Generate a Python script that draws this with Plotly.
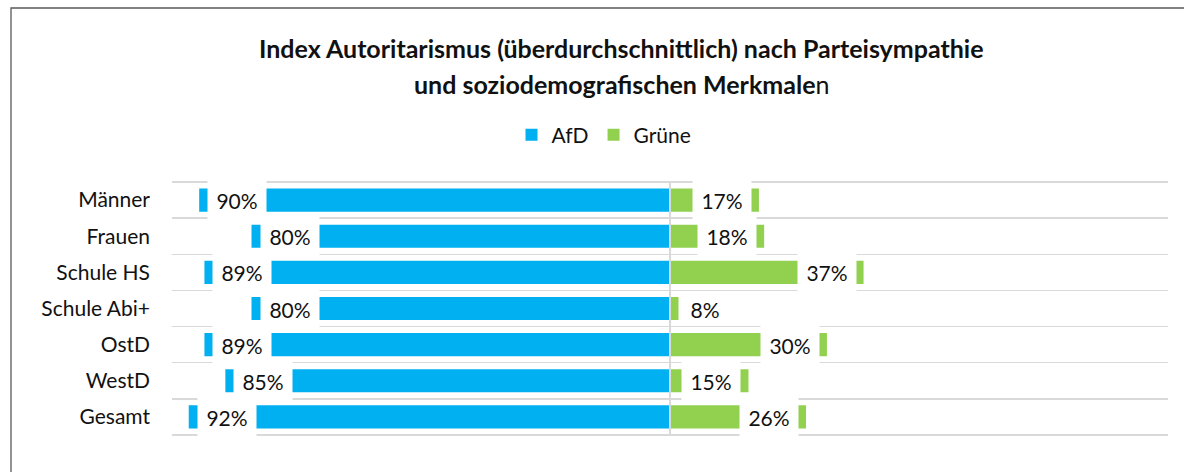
import plotly.graph_objects as go

categories = ["Männer", "Frauen", "Schule HS", "Schule Abi+", "OstD", "WestD", "Gesamt"]
afd = [90, 80, 89, 80, 89, 85, 92]
gruene = [17, 18, 37, 8, 30, 15, 26]
series_names = ["AfD", "Grüne"]
colors = ["#00B0F0", "#92D050"]
title_line1 = "Index Autoritarismus (überdurchschnittlich) nach Parteisympathie"
title_line2 = "<b>und soziodemografischen Merkmale</b>n"

FONT = "Lato"
W, H = 1184, 472
EDGE = 3  # extra px above/below outer gridlines so they are not clipped
ML, MR, MT, MB = 172, 16, 182 - EDGE, 37 - EDGE
XMAX = 95.2
n = len(categories)
ypos = [n - 1 - i for i in range(n)]
grid_pos = [i - 0.5 for i in range(n + 1)]
plot_w = W - ML - MR
plot_h = H - MT - MB
px_per_unit = plot_w / (2 * XMAX)
row_px = (plot_h - 2 * EDGE) / n
YPAD = EDGE / row_px
yrange = [-0.5 - YPAD, n - 0.5 + YPAD]

BOX_W = 58
GAP = 7

fig = go.Figure()
fig.add_trace(go.Bar(
    y=ypos, x=[-v for v in afd], orientation="h", name=series_names[0],
    marker=dict(color=colors[0], line=dict(width=0)), width=0.64,
    hoverinfo="skip",
))
fig.add_trace(go.Bar(
    y=ypos, x=gruene, orientation="h", name=series_names[1],
    marker=dict(color=colors[1], line=dict(width=0)), width=0.64,
    hoverinfo="skip",
))

annotations = []
label_font = dict(family=FONT, size=21, color="#111111")
for yv, v in zip(ypos, afd):
    annotations.append(dict(
        x=-v, y=yv, xref="x", yref="y", text=f"{v}%", showarrow=False,
        xanchor="left", yanchor="middle", xshift=GAP + 1, bgcolor="white",
        width=BOX_W, height=38, borderpad=0, font=label_font,
    ))
for yv, v in zip(ypos, gruene):
    fits = v * px_per_unit - GAP - BOX_W > GAP
    if fits:
        annotations.append(dict(
            x=v, y=yv, xref="x", yref="y", text=f"{v}%", showarrow=False,
            xanchor="right", yanchor="middle", xshift=-GAP, bgcolor="white",
            width=BOX_W, height=38, borderpad=0, font=label_font,
        ))
    else:
        annotations.append(dict(
            x=0, y=yv, xref="x", yref="y", text=f"{v}%", showarrow=False,
            xanchor="left", yanchor="middle", xshift=GAP + 1, bgcolor="white",
            width=BOX_W - 6, height=30, borderpad=0, font=label_font,
        ))

# Title lines (positions given in container pixels, converted to paper coords)
title_font = dict(family=FONT, size=25, color="#111111")
for text, px_y in ((f"<b>{title_line1}</b>", 48), (title_line2, 84)):
    annotations.append(dict(
        x=(621 - ML) / plot_w, y=(H - MB - px_y) / plot_h,
        xref="paper", yref="paper", text=text,
        showarrow=False, xanchor="center", yanchor="middle", font=title_font,
    ))

shapes = [
    dict(type="line", xref="x", yref="y", x0=0, x1=0, y0=grid_pos[0], y1=grid_pos[-1],
         line=dict(color="#d9d9d9", width=2), layer="above"),
    dict(type="rect", xref="paper", yref="paper",
         x0=(11 - ML) / plot_w, x1=(W + 40 - ML) / plot_w,
         y0=(H - MB - (H + 40)) / plot_h, y1=(H - MB - 8) / plot_h,
         line=dict(color="#595959", width=1.3), fillcolor="rgba(0,0,0,0)", layer="below"),
]

fig.update_layout(
    width=W, height=H,
    margin=dict(l=ML, r=MR, t=MT, b=MB, pad=0),
    paper_bgcolor="white", plot_bgcolor="white",
    barmode="overlay",
    showlegend=True,
    legend=dict(orientation="h", xref="container", yref="container",
                x=604 / W, y=1 - 135 / H, xanchor="center", yanchor="middle",
                font=dict(family=FONT, size=21, color="#111111"),
                itemwidth=30, traceorder="normal", bgcolor="rgba(0,0,0,0)"),
    xaxis=dict(range=[-XMAX, XMAX], showgrid=False, zeroline=False,
               showticklabels=False, ticks="", fixedrange=True),
    yaxis=dict(range=yrange, tickmode="array", tickvals=ypos,
               ticktext=categories, showgrid=False, zeroline=False, ticks="",
               ticklabelstandoff=21,
               tickfont=dict(family=FONT, size=21, color="#111111"),
               minor=dict(tickmode="array", tickvals=grid_pos, showgrid=True,
                          gridcolor="#d9d9d9", gridwidth=1.5, ticks=""),
               fixedrange=True),
    annotations=annotations,
    shapes=shapes,
    font=dict(family=FONT),
)

fig.write_html("out.html", config={"displayModeBar": False, "staticPlot": True},
               post_script="document.body.style.margin='0';")
